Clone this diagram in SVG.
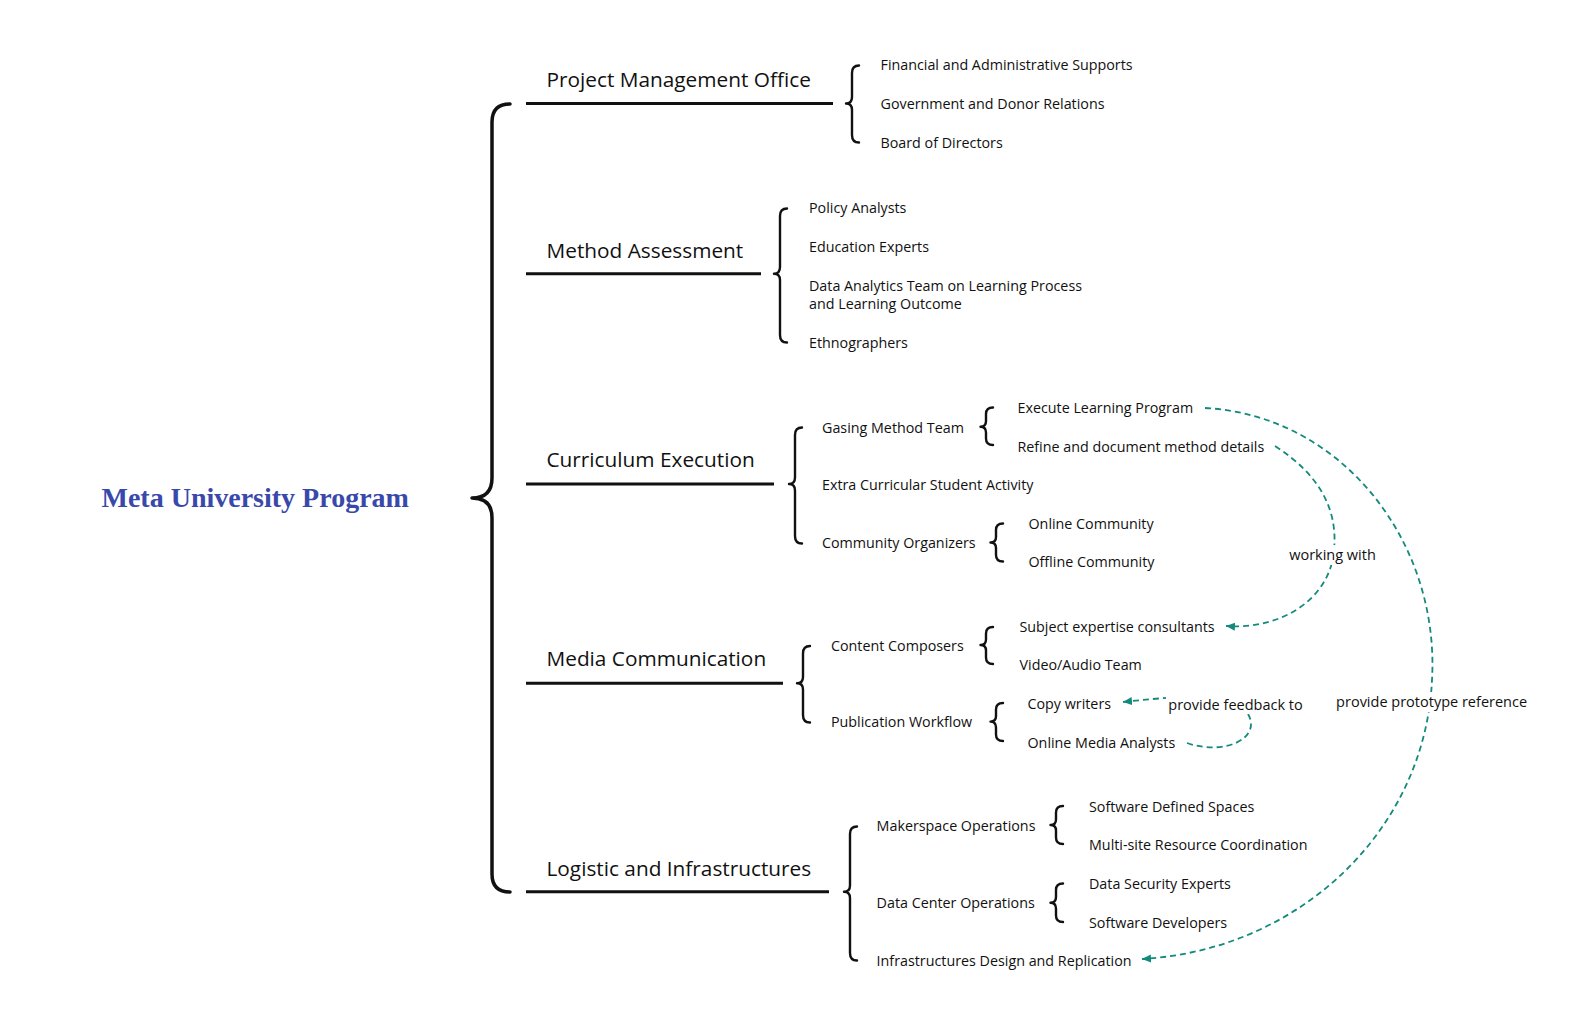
<svg xmlns="http://www.w3.org/2000/svg" width="1578" height="1026" viewBox="0 0 1578 1026">
<style>
.h{font-family:"Open Sans","Noto Sans","Liberation Sans",sans-serif;font-size:20.8px;font-weight:500;fill:#111;}
.t{font-family:"Open Sans","Noto Sans","Liberation Sans",sans-serif;font-size:14.3px;fill:#111;}
.lb{font-family:"Open Sans","Noto Sans","Liberation Sans",sans-serif;font-size:14.5px;fill:#111;}
.title{font-family:"Liberation Serif","Times New Roman",serif;font-size:28px;font-weight:bold;fill:#3949AB;}
.ln{stroke:#111;stroke-width:3;fill:none;}
.br{stroke:#111;stroke-width:2.4;fill:none;stroke-linecap:round;stroke-linejoin:round;}
.mb{stroke:#111;stroke-width:3.5;fill:none;stroke-linecap:round;stroke-linejoin:round;}
.c{stroke:#138a7c;stroke-width:1.8;fill:none;stroke-dasharray:6 4;}
.bg{fill:#fff;}
</style>
<defs>
<marker id="arr" markerUnits="userSpaceOnUse" markerWidth="10" markerHeight="8" refX="9" refY="4" orient="auto">
<path d="M0,0 L9,4 L0,8 Z" fill="#138a7c"/>
</marker>
</defs>
<rect width="1578" height="1026" fill="#fff"/>

<g id="root">
<text class="title" x="101.5" y="507">Meta University Program</text>
<path class="mb" d="M510,104 Q492,104 492,122 L492,478 Q492,498 472,498 Q492,498 492,518 L492,874 Q492,892 510,892"/>
</g>

<g id="pmo">
<text class="h" x="546.5" y="87">Project Management Office</text>
<line class="ln" x1="526" y1="103.5" x2="833" y2="103.5"/>
<path class="br" d="M859,65.5 Q852,65.5 852,73 L852,97 Q852,103.5 846,103.5 Q852,103.5 852,110 L852,135 Q852,142.5 859,142.5"/>
<text class="t" x="880.5" y="70.3">Financial and Administrative Supports</text>
<text class="t" x="880.5" y="109.1">Government and Donor Relations</text>
<text class="t" x="880.5" y="148.1">Board of Directors</text>
</g>

<g id="method">
<text class="h" x="546.5" y="257.5">Method Assessment</text>
<line class="ln" x1="526" y1="273.7" x2="761" y2="273.7"/>
<path class="br" d="M787,208.5 Q780,208.5 780,216 L780,267 Q780,273.7 774,273.7 Q780,273.7 780,280 L780,335 Q780,342.5 787,342.5"/>
<text class="t" x="809" y="213.3">Policy Analysts</text>
<text class="t" x="809" y="252.3">Education Experts</text>
<text class="t" x="809" y="291.3">Data Analytics Team on Learning Process</text>
<text class="t" x="809" y="309.3">and Learning Outcome</text>
<text class="t" x="809" y="347.8">Ethnographers</text>
</g>

<g id="curriculum">
<text class="h" x="546.5" y="467">Curriculum Execution</text>
<line class="ln" x1="526" y1="484" x2="774" y2="484"/>
<path class="br" d="M802,427.5 Q795,427.5 795,435 L795,477.5 Q795,484 789,484 Q795,484 795,490.5 L795,536 Q795,543.5 802,543.5"/>
<text class="t" x="822" y="432.5">Gasing Method Team</text>
<text class="t" x="822" y="489.8">Extra Curricular Student Activity</text>
<text class="t" x="822" y="548.3">Community Organizers</text>
</g>

<g id="gasing">
<path class="br" d="M993,407.5 Q986,407.5 986,414 L986,421 Q986,426.7 980.5,426.7 Q986,426.7 986,432.5 L986,438.5 Q986,445 993,445"/>
<text class="t" x="1017.5" y="413.4">Execute Learning Program</text>
<text class="t" x="1017.5" y="451.6">Refine and document method details</text>
</g>

<g id="community">
<path class="br" d="M1003,523.5 Q996,523.5 996,530 L996,537 Q996,542.5 990.5,542.5 Q996,542.5 996,548 L996,555 Q996,561.5 1003,561.5"/>
<text class="t" x="1028.5" y="528.8">Online Community</text>
<text class="t" x="1028.5" y="567.4">Offline Community</text>
</g>

<g id="media">
<text class="h" x="546.5" y="666">Media Communication</text>
<line class="ln" x1="526" y1="683.3" x2="783" y2="683.3"/>
<path class="br" d="M810,646 Q803,646 803,653.5 L803,677 Q803,683.3 797,683.3 Q803,683.3 803,689.5 L803,715 Q803,722.5 810,722.5"/>
<text class="t" x="831" y="650.8">Content Composers</text>
<text class="t" x="831" y="727.4">Publication Workflow</text>
</g>

<g id="content">
<path class="br" d="M993,627 Q986,627 986,633.5 L986,639.5 Q986,645 980.5,645 Q986,645 986,650.5 L986,657.5 Q986,664 993,664"/>
<text class="t" x="1019.5" y="631.8">Subject expertise consultants</text>
<text class="t" x="1019.5" y="669.8">Video/Audio Team</text>
</g>

<g id="publication">
<path class="br" d="M1003,703 Q996,703 996,709.5 L996,716 Q996,721.6 990.5,721.6 Q996,721.6 996,727.5 L996,734.5 Q996,741 1003,741"/>
<text class="t" x="1027.5" y="709.3">Copy writers</text>
<text class="t" x="1027.5" y="747.5">Online Media Analysts</text>
</g>

<g id="logistic">
<text class="h" x="546.5" y="875.5">Logistic and Infrastructures</text>
<line class="ln" x1="526" y1="891.7" x2="829" y2="891.7"/>
<path class="br" d="M857,826.5 Q850,826.5 850,834 L850,885.5 Q850,891.7 844,891.7 Q850,891.7 850,898 L850,953 Q850,960.5 857,960.5"/>
<text class="t" x="876.6" y="830.8">Makerspace Operations</text>
<text class="t" x="876.6" y="907.5">Data Center Operations</text>
<text class="t" x="876.6" y="965.8">Infrastructures Design and Replication</text>
</g>

<g id="makerspace">
<path class="br" d="M1063,806 Q1056,806 1056,812.5 L1056,819.5 Q1056,825 1050.5,825 Q1056,825 1056,830.5 L1056,837.5 Q1056,844 1063,844"/>
<text class="t" x="1089" y="811.8">Software Defined Spaces</text>
<text class="t" x="1089" y="850.2">Multi-site Resource Coordination</text>
</g>

<g id="datacenter">
<path class="br" d="M1063,883.5 Q1056,883.5 1056,890 L1056,897 Q1056,902.7 1050.5,902.7 Q1056,902.7 1056,908.5 L1056,915.5 Q1056,922 1063,922"/>
<text class="t" x="1089" y="889.4">Data Security Experts</text>
<text class="t" x="1089" y="927.8">Software Developers</text>
</g>

<g id="connectors">
<path class="c" d="M1205,408 C1340,415 1440,540 1432,680 C1425,830 1300,950 1142,959" marker-end="url(#arr)"/>
<path class="c" d="M1275,446 C1320,475 1338,510 1334,550 C1330,600 1280,630 1226,626" marker-end="url(#arr)"/>
<path class="c" d="M1187,743 C1225,756 1262,738 1248,714 C1235,690 1170,697 1123,702" marker-end="url(#arr)"/>
<rect class="bg" x="1334" y="692" width="195" height="20"/>
<text class="lb" x="1431.6" y="706.5" text-anchor="middle">provide prototype reference</text>
<rect class="bg" x="1285" y="545" width="95" height="20"/>
<text class="lb" x="1332.5" y="560" text-anchor="middle">working with</text>
<rect class="bg" x="1166" y="695" width="140" height="19"/>
<text class="lb" x="1235.5" y="709.5" text-anchor="middle">provide feedback to</text>
</g>
</svg>
